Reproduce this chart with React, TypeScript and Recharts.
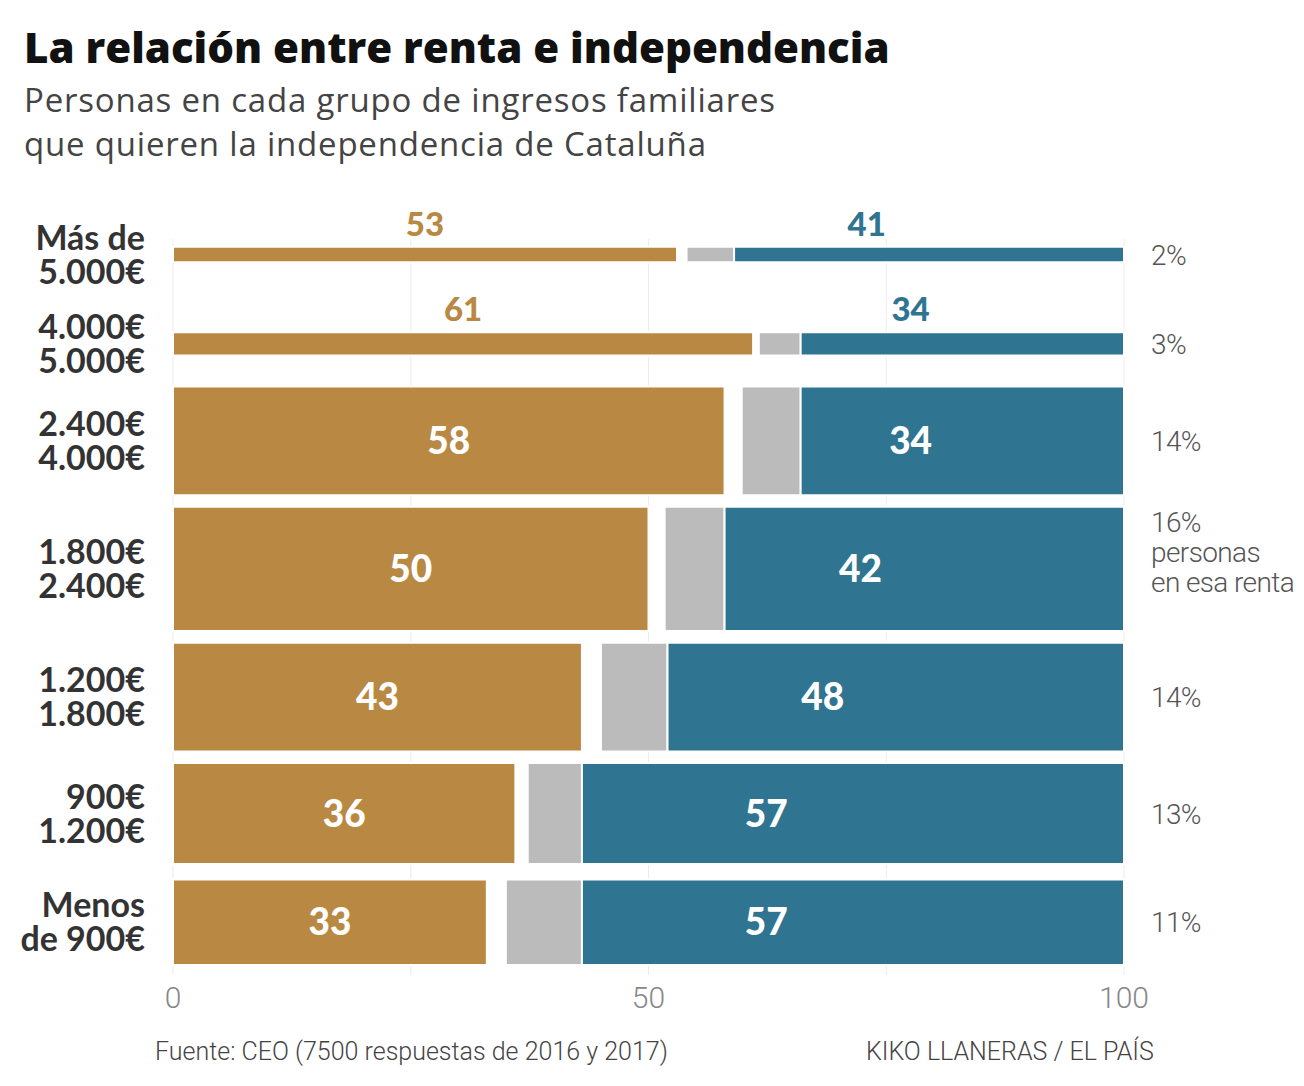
import { ComposedChart, XAxis, YAxis, CartesianGrid, ReferenceArea, Scatter } from "recharts";

// income groups, top to bottom
const incomeLabels = [
  ["Más de", "5.000€"],
  ["4.000€", "5.000€"],
  ["2.400€", "4.000€"],
  ["1.800€", "2.400€"],
  ["1.200€", "1.800€"],
  ["900€", "1.200€"],
  ["Menos", "de 900€"],
];
// % of people in each income group (row height)
const shares = [2, 3, 14, 16, 14, 13, 11];
// answers in each group
const siValues = [53, 61, 58, 50, 43, 36, 33];
const nsncValues = [5.0, 4.4, 6.2, 6.3, 7.0, 5.7, 8.0];
const noValues = [41, 34, 34, 42, 48, 57, 57];
const xTicks = [0, 25, 50, 75, 100];
const shareNote = ["personas", "en esa renta"];
const noteRow = 3;

const GOLD = "#B98842";
const BLUE = "#2F7490";
const GRAY = "#BBBBBB";

// extra room above each row (thin rows need space for labels above)
const gapBefore = [0, 9, 4, 1.5, 1.5, 1.5, 2];

const rows = (() => {
  let pos = 0;
  return shares.map((s, i) => {
    pos += gapBefore[i];
    const top = pos;
    pos += s;
    return { top, bottom: pos, center: top + s / 2 };
  });
})();
const centers = rows.map((r) => r.center);
const yMax = rows[rows.length - 1].bottom;

// one label point per coloured segment
const labelPoints = rows.flatMap((r, i) => {
  const above = shares[i] < 5;
  const noStart = 100 - noValues[i];
  const y = above ? r.top : r.center;
  return [
    { x: siValues[i] / 2, y, value: siValues[i], color: GOLD, above },
    { x: noStart + noValues[i] * 0.34, y, value: noValues[i], color: BLUE, above },
  ];
});

// share labels at the right end of each row
const sharePoints = rows.map((r, i) => ({
  x: 100,
  y: r.center,
  lines: [shares[i] + "%", ...(i === noteRow ? shareNote : [])],
}));

const LabelShape = (props: any) => {
  const { cx, cy, payload } = props;
  const above = payload.above;
  return (
    <text
      x={cx}
      y={above ? cy - 23 : cy}
      dy={above ? 12 : 13}
      textAnchor="middle"
      fill={above ? payload.color : "#fff"}
      fontSize={above ? 33 : 37}
      fontWeight={900}
      fontFamily="Lato"
    >
      {payload.value}
    </text>
  );
};

const ShareShape = (props: any) => {
  const { cx, cy, payload } = props;
  const lines: string[] = payload.lines;
  const start = lines.length > 1 ? -47 : 0;
  return (
    <text
      x={cx + 27}
      y={cy + start + 10}
      textAnchor="start"
      fontFamily="Roboto"
      fontWeight={300}
      fontSize={28}
      letterSpacing={-0.6}
      fill="#555"
    >
      {lines.map((l, k) => (
        <tspan key={k} x={cx + 27} dy={k === 0 ? 0 : 30}>
          {l}
        </tspan>
      ))}
    </text>
  );
};

const LeftTick = (props: any) => {
  const { x, y, index } = props;
  const lines = incomeLabels[index] || [];
  return (
    <text
      x={x}
      y={y - 17 + 12}
      textAnchor="end"
      fontFamily="Lato"
      fontWeight={700}
      fontSize={34}
      fill="#333"
    >
      {lines.map((l, k) => (
        <tspan key={k} x={x} dy={k === 0 ? 0 : 34}>
          {l}
        </tspan>
      ))}
    </text>
  );
};

export default function App() {
  return (
    <div style={{ position: "absolute", left: 0, top: 0, width: 1304, height: 1086, background: "#fff" }}>
      <svg width={1304} height={1086} style={{ position: "absolute", left: 0, top: 0 }}>
        <text x={24} y={63} fontFamily="Open Sans" fontWeight={800} fontSize={42} fill="#111">
          La relación entre renta e independencia
        </text>
        <text x={24} y={112} fontFamily="Open Sans" fontWeight={400} fontSize={33} letterSpacing={0.8} fill="#444">
          Personas en cada grupo de ingresos familiares
        </text>
        <text x={24} y={156} fontFamily="Open Sans" fontWeight={400} fontSize={33} letterSpacing={0.8} fill="#444">
          que quieren la independencia de Cataluña
        </text>
        <text x={155} y={1060} fontFamily="Roboto" fontWeight={300} fontSize={25} fill="#444">
          Fuente: CEO (7500 respuestas de 2016 y 2017)
        </text>
        <text x={866} y={1060} fontFamily="Roboto" fontWeight={300} fontSize={25} fill="#444">
          KIKO LLANERAS / EL PAÍS
        </text>
      </svg>
      <div style={{ position: "absolute", left: 0, top: 0 }}>
        <ComposedChart width={1304} height={1086} margin={{ top: 239, right: 180, left: 0, bottom: 71 }}>
          <CartesianGrid stroke="#ECECEC" horizontal={false} />
          <XAxis
            dataKey="x"
            type="number"
            domain={[0, 100]}
            ticks={xTicks}
            interval={0}
            height={40}
            axisLine={false}
            tickLine={false}
            tickSize={0}
            tickMargin={12}
            tickFormatter={(v: number) => (v % 50 === 0 ? String(v) : "")}
            tick={{ fontSize: 30, fill: "#888", fontFamily: "Roboto", fontWeight: 300 }}
          />
          <YAxis
            dataKey="y"
            type="number"
            reversed
            domain={[-1, yMax + 1.3]}
            ticks={centers}
            interval={0}
            width={173}
            axisLine={false}
            tickLine={false}
            tickSize={0}
            tickMargin={28}
            tick={<LeftTick />}
          />
          {rows.map((r, i) => {
            const noStart = 100 - noValues[i];
            return [
              <ReferenceArea
                key={"si" + i}
                x1={0}
                x2={siValues[i]}
                y1={r.top}
                y2={r.bottom}
                fill={GOLD}
                fillOpacity={1}
                stroke="#fff"
                strokeWidth={2}
                ifOverflow="visible"
              />,
              <ReferenceArea
                key={"ns" + i}
                x1={noStart - nsncValues[i]}
                x2={noStart}
                y1={r.top}
                y2={r.bottom}
                fill={GRAY}
                fillOpacity={1}
                stroke="#fff"
                strokeWidth={2}
                ifOverflow="visible"
              />,
              <ReferenceArea
                key={"no" + i}
                x1={noStart}
                x2={100}
                y1={r.top}
                y2={r.bottom}
                fill={BLUE}
                fillOpacity={1}
                stroke="#fff"
                strokeWidth={2}
                ifOverflow="visible"
              />,
            ];
          })}
          <Scatter data={labelPoints} dataKey="y" shape={<LabelShape />} isAnimationActive={false} />
          <Scatter data={sharePoints} dataKey="y" shape={<ShareShape />} isAnimationActive={false} />
        </ComposedChart>
      </div>
    </div>
  );
}
